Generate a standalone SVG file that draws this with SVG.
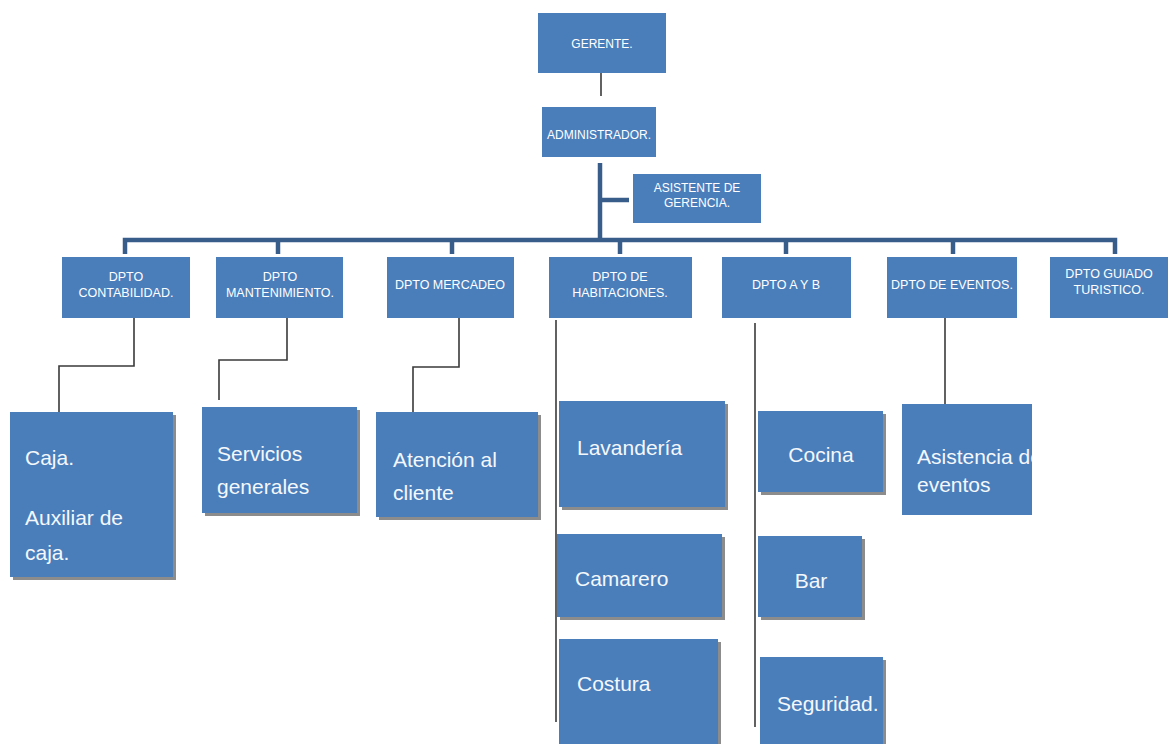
<svg xmlns="http://www.w3.org/2000/svg" width="1172" height="744" viewBox="0 0 1172 744">
<style>
.box{fill:#4a7ebb}
.sh{fill:#8c8c8c}
.t{fill:#ffffff;font-family:"Liberation Sans",Arial,sans-serif;font-size:12px}
.d{font-size:12.5px}
.tc{text-anchor:middle}
.b{fill:#f4f8fc;font-family:"Liberation Sans",Arial,sans-serif;font-size:21px}
.thin{fill:none;stroke:#3a3a3a;stroke-width:1.6}
.bus{fill:none;stroke:#385d8a;stroke-width:4.5}
</style>
<defs>
<clipPath id="clipAsis"><rect x="902" y="404" width="130" height="111"/></clipPath>
</defs>
<rect width="1172" height="744" fill="#ffffff"/>
<g id="connectors">
<line class="thin" x1="601" y1="73" x2="601" y2="96"/>
<line class="bus" x1="600" y1="163" x2="600" y2="240"/>
<line class="bus" x1="600" y1="200" x2="629" y2="200"/>
<path class="bus" d="M125,254 V240 H1115 V254"/>
<line class="bus" x1="278" y1="240" x2="278" y2="254"/>
<line class="bus" x1="452" y1="240" x2="452" y2="254"/>
<line class="bus" x1="620" y1="240" x2="620" y2="254"/>
<line class="bus" x1="786" y1="240" x2="786" y2="254"/>
<line class="bus" x1="953" y1="240" x2="953" y2="254"/>
<path class="thin" d="M134,318 V366 H59 V412"/>
<path class="thin" d="M287,318 V360 H219 V400"/>
<path class="thin" d="M459,318 V367 H413 V412"/>
<line class="thin" x1="556" y1="320" x2="556" y2="722"/>
<line class="thin" x1="755" y1="323" x2="755" y2="727"/>
<line class="thin" x1="945" y1="318" x2="945" y2="404"/>
</g>
<g id="gerente"><rect class="box" x="538" y="13" width="128" height="60"/><text class="t tc" x="602" y="48">GERENTE.</text></g>
<g id="administrador"><rect class="box" x="542" y="107" width="114" height="50"/><text class="t tc" x="599" y="139">ADMINISTRADOR.</text></g>
<g id="asistente"><rect class="box" x="633" y="174" width="128" height="49"/><text class="t tc" x="697" y="192">ASISTENTE DE</text><text class="t tc" x="697" y="207">GERENCIA.</text></g>
<g id="dpto-contabilidad"><rect class="box" x="62" y="257" width="128" height="61"/><text class="t d tc" x="126" y="281">DPTO</text><text class="t d tc" x="126" y="297">CONTABILIDAD.</text></g>
<g id="dpto-mantenimiento"><rect class="box" x="216" y="257" width="127" height="61"/><text class="t d tc" x="280" y="281">DPTO</text><text class="t d tc" x="280" y="297">MANTENIMIENTO.</text></g>
<g id="dpto-mercadeo"><rect class="box" x="387" y="257" width="127" height="61"/><text class="t d tc" x="450" y="289">DPTO MERCADEO</text></g>
<g id="dpto-habitaciones"><rect class="box" x="549" y="257" width="143" height="61"/><text class="t d tc" x="620" y="281">DPTO DE</text><text class="t d tc" x="620" y="297">HABITACIONES.</text></g>
<g id="dpto-ayb"><rect class="box" x="722" y="257" width="129" height="61"/><text class="t d tc" x="786" y="289">DPTO A Y B</text></g>
<g id="dpto-eventos"><rect class="box" x="887" y="257" width="130" height="61"/><text class="t d tc" x="952" y="289">DPTO DE EVENTOS.</text></g>
<g id="dpto-guiado"><rect class="box" x="1050" y="257" width="118" height="61"/><text class="t d tc" x="1109" y="278">DPTO GUIADO</text><text class="t d tc" x="1109" y="294">TURISTICO.</text></g>
<g id="caja"><rect class="sh" x="13" y="415" width="163" height="165"/><rect class="box" x="10" y="412" width="163" height="165"/><text class="b" x="25" y="465">Caja.</text><text class="b" x="25" y="525">Auxiliar de</text><text class="b" x="25" y="560">caja.</text></g>
<g id="servicios"><rect class="sh" x="205" y="410" width="155" height="106"/><rect class="box" x="202" y="407" width="155" height="106"/><text class="b" x="217" y="461">Servicios</text><text class="b" x="217" y="494">generales</text></g>
<g id="atencion"><rect class="sh" x="379" y="415" width="162" height="105"/><rect class="box" x="376" y="412" width="162" height="105"/><text class="b" x="393" y="467">Atención al</text><text class="b" x="393" y="500">cliente</text></g>
<g id="lavanderia"><rect class="sh" x="562" y="404" width="166" height="106"/><rect class="box" x="559" y="401" width="166" height="106"/><text class="b" x="577" y="455">Lavandería</text></g>
<g id="camarero"><rect class="sh" x="560" y="537" width="165" height="83"/><rect class="box" x="557" y="534" width="165" height="83"/><text class="b" x="575" y="586">Camarero</text></g>
<g id="costura"><rect class="sh" x="562" y="642" width="159" height="105"/><rect class="box" x="559" y="639" width="159" height="105"/><text class="b" x="577" y="691">Costura</text></g>
<g id="cocina"><rect class="sh" x="761" y="414" width="125" height="81"/><rect class="box" x="758" y="411" width="125" height="81"/><text class="b tc" x="821" y="462">Cocina</text></g>
<g id="bar"><rect class="sh" x="761" y="539" width="104" height="81"/><rect class="box" x="758" y="536" width="104" height="81"/><text class="b tc" x="811" y="588">Bar</text></g>
<g id="seguridad"><rect class="sh" x="763" y="660" width="123" height="87"/><rect class="box" x="760" y="657" width="123" height="87"/><text class="b" x="777" y="711">Seguridad.</text></g>
<g id="asistencia"><rect class="box" x="902" y="404" width="130" height="111"/><g clip-path="url(#clipAsis)"><text class="b" x="917" y="464">Asistencia de</text><text class="b" x="917" y="492">eventos</text></g></g>
</svg>
